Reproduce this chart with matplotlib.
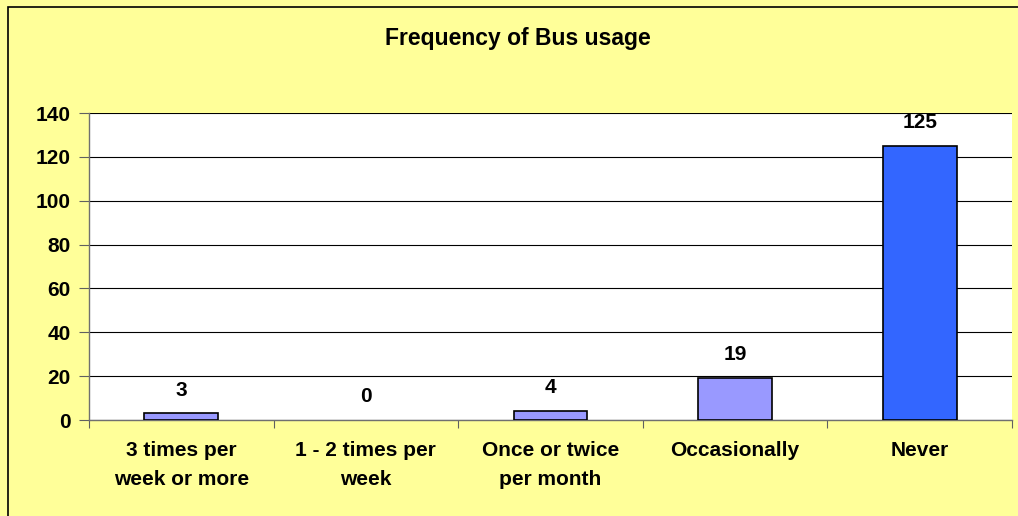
import matplotlib
matplotlib.use("Agg")
import matplotlib.pyplot as plt
from matplotlib.patches import Rectangle

categories = ["3 times per\nweek or more", "1 - 2 times per\nweek", "Once or twice\nper month", "Occasionally", "Never"]
values = [3, 0, 4, 19, 125]
bar_colors = ["#9999FF", "#9999FF", "#9999FF", "#9999FF", "#3366FF"]
yticks = [0, 20, 40, 60, 80, 100, 120, 140]
title = "Frequency of Bus usage"

plt.rcParams['font.family'] = ['Liberation Sans', 'DejaVu Sans']

fig = plt.figure(figsize=(10.18, 5.16), dpi=100)
fig.patch.set_facecolor("#FFFF99")
W, H = 1018, 516
ax = fig.add_axes([89 / W, 1 - 420 / H, (1012 - 89) / W, (420 - 113) / H])
ax.set_facecolor("white")

FS = 15
x = list(range(len(categories)))
bars = ax.bar(x, values, width=0.4, color=bar_colors, edgecolor="black", linewidth=1.2, zorder=3)
for b, v in zip(bars, values):
    if v == 0:
        b.set_visible(False)
ax.set_xlim(-0.5, len(categories) - 0.5)
ax.set_ylim(0, 140)
ax.set_yticks(yticks)
ax.set_yticklabels([str(t) for t in yticks], fontsize=FS, fontweight="bold")
ax.yaxis.grid(True, color="black", linewidth=0.8, zorder=0)
ax.set_axisbelow(True)

ax.set_xticks([i - 0.5 for i in range(len(categories) + 1)], minor=False)
ax.set_xticklabels([])
ax.set_xticks(x, minor=True)
ax.set_xticklabels(categories, minor=True, fontsize=FS, fontweight="bold", linespacing=1.65)
ax.tick_params(axis="x", which="minor", length=0, pad=15)
ax.tick_params(axis="x", which="major", length=6, color="#606060", direction="out")
ax.tick_params(axis="y", length=7, color="#606060", direction="out", pad=6)

for s in ["top", "right"]:
    ax.spines[s].set_visible(False)
ax.spines["left"].set_color("#707070")
ax.spines["bottom"].set_color("#707070")
ax.spines["left"].set_linewidth(1.0)
ax.spines["bottom"].set_linewidth(1.0)

for xi, v in zip(x, values):
    ax.annotate(str(v), (xi, v), xytext=(0, 10), textcoords="offset points",
                ha="center", va="bottom", fontsize=FS, fontweight="bold")

fig.text(518 / W, 1 - 39 / H, title, ha="center", va="center", fontsize=16.5, fontweight="bold")

fig.patches.append(Rectangle((8 / W, -0.1), 1.2, 1 - 7 / H + 0.1, transform=fig.transFigure,
                             fill=False, edgecolor="black", linewidth=1.2))

fig.savefig("out.png", dpi=100, facecolor=fig.get_facecolor())
